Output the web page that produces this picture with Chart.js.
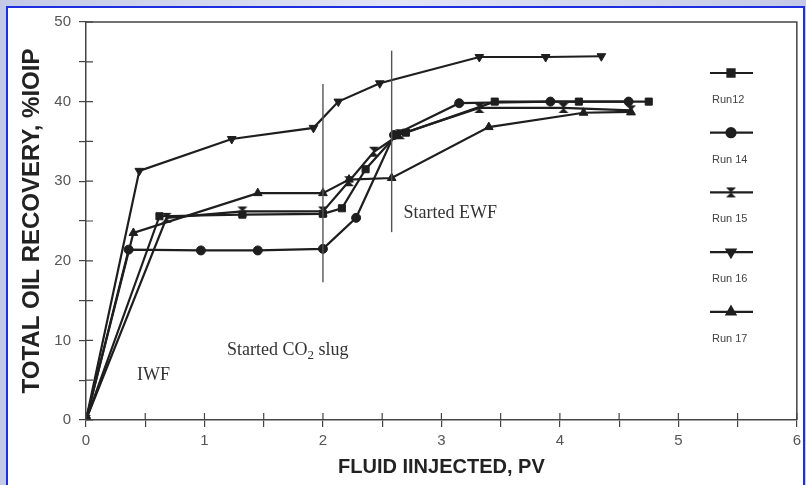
<!DOCTYPE html>
<html>
<head>
<meta charset="utf-8">
<title>Total oil recovery vs fluid injected</title>
<script src="https://cdn.jsdelivr.net/npm/chart.js@4.4.0/dist/chart.umd.min.js"></script>
<style>
    html, body { margin: 0; padding: 0; }
    body {
        width: 806px; height: 485px; overflow: hidden; position: relative;
        background: linear-gradient(90deg, #c4cae6 0%, #e2e5f4 50%, #c4cae6 100%);
    }
    .frame {
        position: absolute; left: 6px; top: 6px; width: 799px; height: 490px;
        background: #fff; border: 2px solid #1d2fe0; box-sizing: border-box;
    }
    #chart { position: absolute; left: 0; top: 0; }
</style>
</head>
<body>
<div class="frame"></div>
<canvas id="chart" width="806" height="485"></canvas>
<script>
// Recovery curves, x = pore volumes injected, y = % IOIP
const runNames = ['Run12', 'Run 14', 'Run 15', 'Run 16', 'Run 17'];

const run12X = [0, 0.62, 1.32, 2.0, 2.16, 2.36, 2.62, 2.70, 3.45, 4.16, 4.75];
const run12Y = [0, 25.6, 25.8, 25.9, 26.6, 31.5, 35.8, 36.1, 40.0, 40.0, 40.0];

const run14X = [0, 0.36, 0.97, 1.45, 2.0, 2.28, 2.60, 3.15, 3.92, 4.58];
const run14Y = [0, 21.4, 21.3, 21.3, 21.5, 25.4, 35.8, 39.8, 40.0, 40.0];

const run15X = [0, 0.68, 1.32, 2.0, 2.22, 2.43, 2.65, 3.32, 4.03, 4.60];
const run15Y = [0, 25.4, 26.2, 26.2, 30.0, 33.7, 35.9, 39.2, 39.2, 38.9];

const run16X = [0, 0.45, 1.23, 1.92, 2.13, 2.48, 3.32, 3.88, 4.35];
const run16Y = [0, 31.3, 35.3, 36.7, 40.0, 42.3, 45.6, 45.6, 45.7];

const run17X = [0, 0.40, 1.45, 2.0, 2.22, 2.58, 3.40, 4.20, 4.60];
const run17Y = [0, 23.5, 28.5, 28.5, 30.2, 30.4, 36.8, 38.6, 38.7];

// vertical markers where the CO2 slug and extended waterflood start
const stageLines = [
    { x: 2.0, from: 17.3, to: 42.2 },
    { x: 2.58, from: 23.6, to: 46.4 }
];

const notes = [
    { x: 2.68, y: 26.0, parts: [['Started EWF', 0]] },
    { x: 1.19, y: 8.7, parts: [['Started CO', 0], ['2', 1], [' slug', 0]] },
    { x: 0.43, y: 5.6, parts: [['IWF', 0]] }
];

const ink = '#1e1e1e';

function pts(xs, ys) {
    return xs.map((x, i) => ({ x: x, y: ys[i] }));
}

// hourglass marker used for Run 15
function makeBowtie() {
    const c = document.createElement('canvas');
    c.width = 12; c.height = 12;
    const g = c.getContext('2d');
    g.fillStyle = ink;
    g.beginPath();
    g.moveTo(1, 1); g.lineTo(11, 1); g.lineTo(6, 6); g.closePath();
    g.moveTo(1, 11); g.lineTo(11, 11); g.lineTo(6, 6); g.closePath();
    g.fill();
    return c;
}
const bowtie = makeBowtie();

function series(label, xs, ys, style, rotation, radius) {
    return {
        label: label,
        data: pts(xs, ys),
        showLine: true,
        borderColor: ink,
        backgroundColor: ink,
        borderWidth: 2.2,
        pointStyle: style,
        rotation: rotation || 0,
        pointRadius: radius || 5,
        pointBorderWidth: 1,
        pointBorderColor: ink,
        pointBackgroundColor: ink
    };
}

const datasets = [
    series(runNames[0], run12X, run12Y, 'rect', 0, 5),
    series(runNames[1], run14X, run14Y, 'circle', 0, 4.5),
    series(runNames[2], run15X, run15Y, bowtie, 0, 5),
    series(runNames[3], run16X, run16Y, 'triangle', 180, 5),
    series(runNames[4], run17X, run17Y, 'triangle', 0, 5)
];

// box, inner tick marks, stage lines, notes and the legend column
const decorations = {
    id: 'decorations',
    afterDraw(chart) {
        const ctx = chart.ctx;
        const area = chart.chartArea;
        const xs = chart.scales.x, ys = chart.scales.y;
        ctx.save();

        ctx.strokeStyle = '#444';
        ctx.lineWidth = 1.5;
        ctx.beginPath();
        ctx.moveTo(area.left, area.top);
        ctx.lineTo(area.right, area.top);
        ctx.lineTo(area.right, area.bottom);
        ctx.stroke();

        ctx.lineWidth = 1.2;
        ctx.beginPath();
        xs.ticks.forEach(t => {
            const px = xs.getPixelForValue(t.value);
            ctx.moveTo(px, area.bottom);
            ctx.lineTo(px, area.bottom - 7);
        });
        ys.ticks.forEach(t => {
            const py = ys.getPixelForValue(t.value);
            ctx.moveTo(area.left, py);
            ctx.lineTo(area.left + 7, py);
        });
        ctx.stroke();

        ctx.strokeStyle = '#555';
        ctx.lineWidth = 1.4;
        stageLines.forEach(s => {
            const px = xs.getPixelForValue(s.x);
            ctx.beginPath();
            ctx.moveTo(px, ys.getPixelForValue(s.from));
            ctx.lineTo(px, ys.getPixelForValue(s.to));
            ctx.stroke();
        });

        ctx.fillStyle = '#333';
        ctx.textBaseline = 'middle';
        ctx.textAlign = 'left';
        notes.forEach(n => {
            let px = xs.getPixelForValue(n.x);
            const py = ys.getPixelForValue(n.y);
            n.parts.forEach(([txt, sub]) => {
                ctx.font = sub ? '13px "Liberation Serif"' : '18px "Liberation Serif"';
                ctx.fillText(txt, px, py + (sub ? 5 : 0));
                px += ctx.measureText(txt).width;
            });
        });

        chart.data.datasets.forEach((ds, i) => {
            const ly = 73 + i * 59.7;
            ctx.strokeStyle = ink;
            ctx.lineWidth = 2.2;
            ctx.beginPath();
            ctx.moveTo(710, ly);
            ctx.lineTo(753, ly);
            ctx.stroke();
            ctx.fillStyle = ink;
            Chart.helpers.drawPoint(ctx, {
                pointStyle: ds.pointStyle,
                rotation: ds.rotation,
                radius: ds.pointRadius,
                borderWidth: 1
            }, 731, ly);
            ctx.fillStyle = '#444';
            ctx.font = '11px "Liberation Sans"';
            ctx.fillText(ds.label, 712, ly + 27);
        });
        ctx.restore();
    }
};

new Chart(document.getElementById('chart'), {
    type: 'scatter',
    data: { datasets: datasets },
    plugins: [decorations],
    options: {
        responsive: false,
        animation: false,
        layout: { autoPadding: false, padding: { left: 0, right: 6, top: 22, bottom: 0 } },
        plugins: { legend: { display: false }, tooltip: { enabled: false } },
        scales: {
            x: {
                type: 'linear',
                min: 0, max: 6,
                afterFit(scale) { scale.height = 65; },
                ticks: {
                    stepSize: 0.5,
                    color: '#555',
                    font: { family: 'Liberation Sans', size: 15 },
                    padding: 5,
                    maxRotation: 0,
                    callback: v => Number.isInteger(v) ? String(v) : ''
                },
                grid: { drawOnChartArea: false, drawTicks: true, tickLength: 7, color: '#444', lineWidth: 1.2 },
                border: { display: true, color: '#444', width: 1.5 },
                title: {
                    display: true,
                    text: 'FLUID IINJECTED, PV',
                    color: '#222',
                    font: { family: 'Liberation Sans', size: 20, weight: 'bold' },
                    padding: { top: 0, bottom: 6 }
                }
            },
            y: {
                min: 0, max: 50,
                afterFit(scale) { scale.width = 86; },
                ticks: {
                    stepSize: 5,
                    color: '#555',
                    font: { family: 'Liberation Sans', size: 15 },
                    padding: 8,
                    callback: v => v % 10 === 0 ? String(v) : ''
                },
                grid: { drawOnChartArea: false, drawTicks: true, tickLength: 7, color: '#444', lineWidth: 1.2 },
                border: { display: true, color: '#444', width: 1.5 },
                title: {
                    display: true,
                    text: 'TOTAL OIL RECOVERY, %IOIP',
                    color: '#222',
                    font: { family: 'Liberation Sans', size: 24, weight: 'bold' },
                    padding: { top: 18, bottom: 0 }
                }
            }
        }
    }
});
</script>
</body>
</html>
